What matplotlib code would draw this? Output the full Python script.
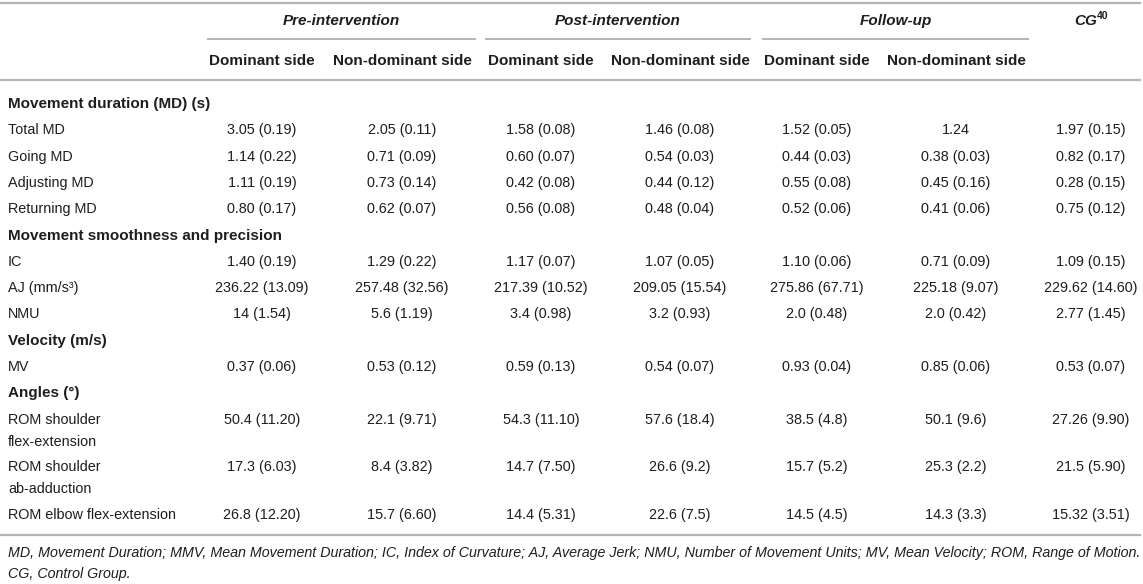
import matplotlib
matplotlib.use("Agg")
import matplotlib.pyplot as plt

plt.rcParams['font.family'] = ['Liberation Sans', 'DejaVu Sans']

# table content
groups = ["Pre-intervention", "Post-intervention", "Follow-up"]
sub_headers = ["Dominant side", "Non-dominant side"]

row_labels = ["Total MD", "Going MD", "Adjusting MD", "Returning MD",
              "IC", "AJ (mm/s³)", "NMU",
              "MV",
              "ROM shoulder\nflex-extension", "ROM shoulder\nab-adduction",
              "ROM elbow flex-extension"]
sections = {0: "Movement duration (MD) (s)",
            4: "Movement smoothness and precision",
            7: "Velocity (m/s)",
            8: "Angles (°)"}

pre_dom = ["3.05 (0.19)", "1.14 (0.22)", "1.11 (0.19)", "0.80 (0.17)", "1.40 (0.19)",
           "236.22 (13.09)", "14 (1.54)", "0.37 (0.06)", "50.4 (11.20)", "17.3 (6.03)", "26.8 (12.20)"]
pre_non = ["2.05 (0.11)", "0.71 (0.09)", "0.73 (0.14)", "0.62 (0.07)", "1.29 (0.22)",
           "257.48 (32.56)", "5.6 (1.19)", "0.53 (0.12)", "22.1 (9.71)", "8.4 (3.82)", "15.7 (6.60)"]
post_dom = ["1.58 (0.08)", "0.60 (0.07)", "0.42 (0.08)", "0.56 (0.08)", "1.17 (0.07)",
            "217.39 (10.52)", "3.4 (0.98)", "0.59 (0.13)", "54.3 (11.10)", "14.7 (7.50)", "14.4 (5.31)"]
post_non = ["1.46 (0.08)", "0.54 (0.03)", "0.44 (0.12)", "0.48 (0.04)", "1.07 (0.05)",
            "209.05 (15.54)", "3.2 (0.93)", "0.54 (0.07)", "57.6 (18.4)", "26.6 (9.2)", "22.6 (7.5)"]
fu_dom = ["1.52 (0.05)", "0.44 (0.03)", "0.55 (0.08)", "0.52 (0.06)", "1.10 (0.06)",
          "275.86 (67.71)", "2.0 (0.48)", "0.93 (0.04)", "38.5 (4.8)", "15.7 (5.2)", "14.5 (4.5)"]
fu_non = ["1.24", "0.38 (0.03)", "0.45 (0.16)", "0.41 (0.06)", "0.71 (0.09)",
          "225.18 (9.07)", "2.0 (0.42)", "0.85 (0.06)", "50.1 (9.6)", "25.3 (2.2)", "14.3 (3.3)"]
cg = ["1.97 (0.15)", "0.82 (0.17)", "0.28 (0.15)", "0.75 (0.12)", "1.09 (0.15)",
      "229.62 (14.60)", "2.77 (1.45)", "0.53 (0.07)", "27.26 (9.90)", "21.5 (5.90)", "15.32 (3.51)"]

footnote1 = ("MD, Movement Duration; MMV, Mean Movement Duration; IC, Index of Curvature; "
             "AJ, Average Jerk; NMU, Number of Movement Units; MV, Mean Velocity; ROM, Range of Motion.")
footnote2 = "CG, Control Group."

columns = [pre_dom, pre_non, post_dom, post_non, fu_dom, fu_non, cg]
col_x = [262, 402, 541, 680, 817, 956, 1091]
group_span = [(208, 475), (486, 750), (763, 1028)]

W, H = 1143, 584
fig = plt.figure(figsize=(W / 100, H / 100), dpi=100)
ax = fig.add_axes([0, 0, 1, 1])
ax.set_xlim(0, W)
ax.set_ylim(H, 0)
ax.axis('off')

txt = '#1e1e1e'
rule = '#b4b4b4'
fs = 10.4

# rules
ax.plot([0, 1140], [3, 3], color=rule, lw=1.6)
ax.plot([0, 1140], [80, 80], color=rule, lw=1.6)
ax.plot([0, 1140], [535, 535], color=rule, lw=1.6)
for (a, b) in group_span:
    ax.plot([a, b], [39, 39], color=rule, lw=1.4)

# headers
for g, (a, b) in zip(groups, group_span):
    ax.text((a + b) / 2, 21, g, ha='center', va='center', fontsize=11,
            fontweight='bold', fontstyle='italic', color=txt)
for i in range(6):
    ax.text(col_x[i], 61, sub_headers[i % 2], ha='center', va='center', fontsize=11,
            fontweight='bold', color=txt)
ax.text(1097, 21, "CG", ha='right', va='center', fontsize=11,
        fontweight='bold', fontstyle='italic', color=txt)
ax.text(1097, 16, "40", ha='left', va='center', fontsize=7.5,
        fontweight='bold', color=txt)

# body
y = 104
for r, lab in enumerate(row_labels):
    if r in sections:
        ax.text(8, y, sections[r], ha='left', va='center', fontsize=11,
                fontweight='bold', color=txt)
        y += 26.3
    lines = lab.split("\n")
    for k, ln in enumerate(lines):
        ax.text(8, y + 22 * k, ln, ha='left', va='center', fontsize=fs, color=txt)
    for c, vals in enumerate(columns):
        ax.text(col_x[c], y, vals[r], ha='center', va='center', fontsize=fs, color=txt)
    y += 26.3 if len(lines) == 1 else 47.5

ax.text(8, 553, footnote1, ha='left', va='center', fontsize=10.25,
        fontstyle='italic', color=txt)
ax.text(8, 574, footnote2, ha='left', va='center', fontsize=10.25,
        fontstyle='italic', color=txt)

fig.savefig("out.png", dpi=100)
